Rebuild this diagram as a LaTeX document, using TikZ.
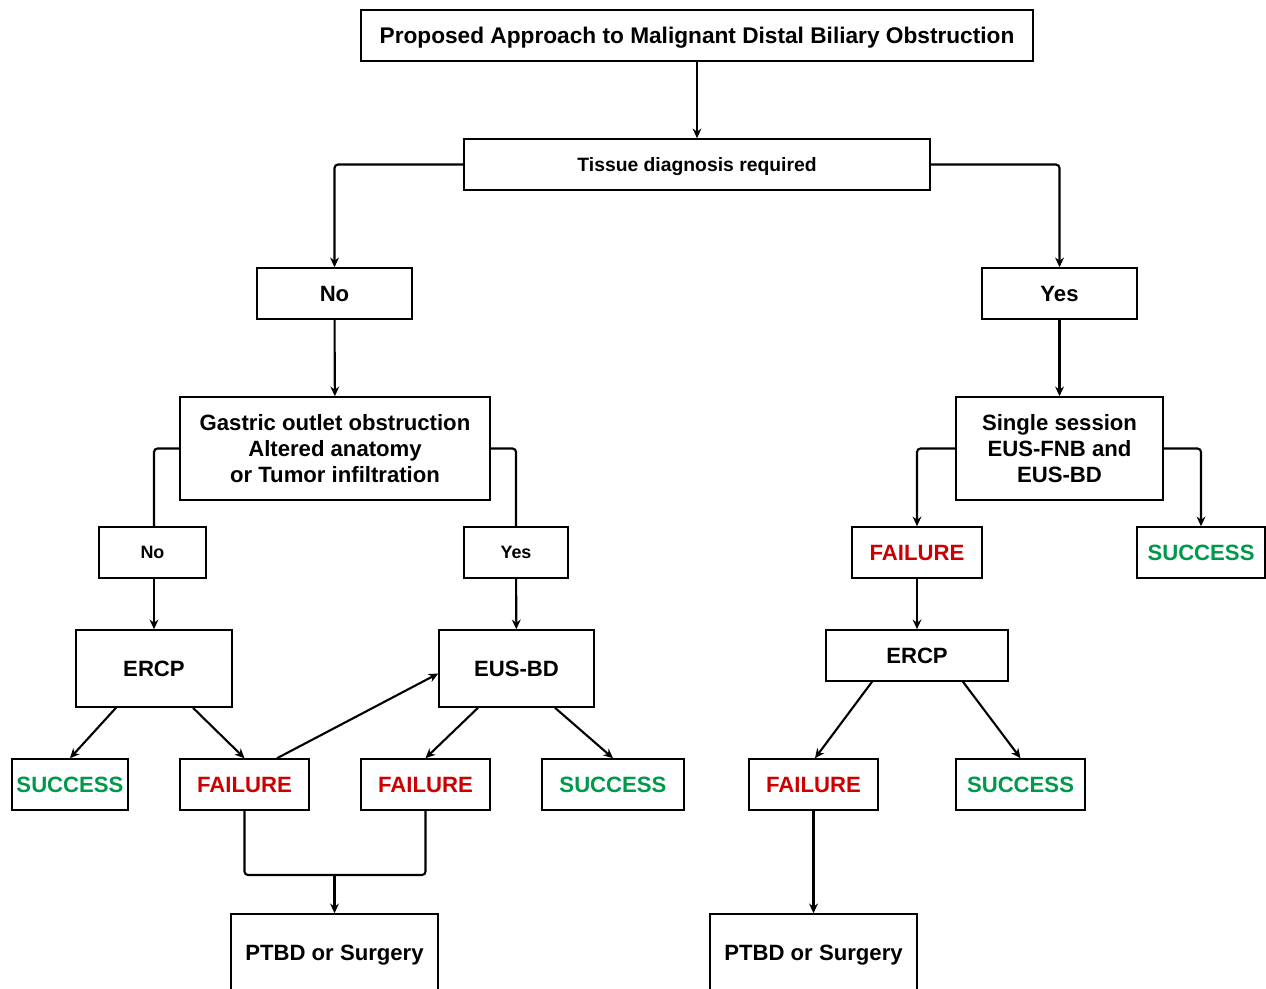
\documentclass[tikz,border=0pt]{standalone}
\usepackage{fontspec}
\setmainfont{Liberation Sans}
\usepackage{tikz}
\usetikzlibrary{arrows.meta}
\usetikzlibrary{positioning}

\definecolor{okgreen}{RGB}{0,153,76}
\definecolor{badred}{RGB}{204,0,0}

\begin{document}
\begin{tikzpicture}[x=0.02cm, y=-0.02cm,
    >={Stealth[length=5.5pt,width=5pt]},
    tallbox/.style={draw, line width=0.9pt, inner sep=0pt, align=center,
                font=\fontsize{12.6}{14.7}\selectfont\bfseries},
    box/.style={tallbox, text depth=0pt},
    smallbox/.style={box, font=\fontsize{10.2}{12}\selectfont\bfseries},
    okbox/.style={box, text=okgreen},
    badbox/.style={box, text=badred},
    line/.style={line width=1.2pt, rounded corners=2pt},
    arr/.style={line, ->}]
  \useasboundingbox (0,0) rectangle (1266,988);

  \node[box, minimum width=13.44cm, minimum height=1.02cm,
        font=\fontsize{12.9}{15}\selectfont\bfseries] (title) at (697,35.5)
       {Proposed Approach to Malignant Distal Biliary Obstruction};
  \node[box, minimum width=9.32cm, minimum height=1.02cm,
        font=\fontsize{11}{13}\selectfont\bfseries] (tissue) at (697,164.5)
       {Tissue diagnosis required};

  \node[box, minimum width=3.1cm, minimum height=1.02cm] (no1)  at (334.5,293.5) {No};
  \node[box, minimum width=3.1cm, minimum height=1.02cm] (yes1) at (1059.5,293.5) {Yes};

  \node[tallbox, minimum width=6.2cm, minimum height=2.06cm] (gastric) at (335,448.5)
       {Gastric outlet obstruction\\Altered anatomy\\or Tumor infiltration};
  \node[tallbox, minimum width=4.14cm, minimum height=2.06cm] (single) at (1059.5,448.5)
       {Single session\\EUS-FNB and\\EUS-BD};

  \node[smallbox, minimum width=2.14cm, minimum height=1.02cm] (no2)  at (152.5,552.5) {No};
  \node[smallbox, minimum width=2.08cm, minimum height=1.02cm] (yes2) at (516,552.5) {Yes};
  \node[badbox, minimum width=2.6cm,  minimum height=1.02cm] (failR) at (917,552.5) {FAILURE};
  \node[okbox,  minimum width=2.56cm, minimum height=1.02cm] (succR) at (1201,552.5) {SUCCESS};

  \node[box, minimum width=3.12cm, minimum height=1.54cm] (ercpL) at (154,668.5) {ERCP};
  \node[box, minimum width=3.1cm,  minimum height=1.54cm] (eusbd) at (516.5,668.5) {EUS-BD};
  \node[box, minimum width=3.64cm, minimum height=1.02cm] (ercpR) at (917,655.5) {ERCP};

  \node[okbox,  minimum width=2.32cm, minimum height=1.02cm] (succ1) at (70,784.5) {SUCCESS};
  \node[badbox, minimum width=2.58cm, minimum height=1.02cm] (fail1) at (244.5,784.5) {FAILURE};
  \node[badbox, minimum width=2.58cm, minimum height=1.02cm] (fail2) at (425.5,784.5) {FAILURE};
  \node[okbox,  minimum width=2.84cm, minimum height=1.02cm] (succ2) at (613,784.5) {SUCCESS};
  \node[badbox, minimum width=2.58cm, minimum height=1.02cm] (fail3) at (813.5,784.5) {FAILURE};
  \node[okbox,  minimum width=2.58cm, minimum height=1.02cm] (succ3) at (1020.5,784.5) {SUCCESS};

  \node[box, minimum width=4.14cm, minimum height=1.56cm] (ptbd1) at (334.5,953) {PTBD or Surgery};
  \node[box, minimum width=4.14cm, minimum height=1.56cm] (ptbd2) at (813.5,953) {PTBD or Surgery};
  \coordinate (join) at (334.5,875);

  \draw[arr] (title) -- (tissue);
  \draw[arr] (tissue.west) -| (no1);
  \draw[arr] (tissue.east) -| (yes1);
  \draw[arr] (no1) -- (gastric);
  \draw[arr] (yes1) -- (single);

  \draw[line] (gastric.west) -| ([xshift=0.03cm]no2.north);
  \draw[line] (gastric.east) -| (yes2);
  \draw[arr] (single.west) -| (failR);
  \draw[arr] (single.east) -| (succR);

  \draw[arr] (no2.south -| ercpL) -- (ercpL);
  \draw[arr] (yes2) -- (eusbd);
  \draw[arr] (failR) -- (ercpR);

  \draw[arr] ([xshift=-0.76cm]ercpL.south) -- (succ1.north);
  \draw[arr] ([xshift=0.78cm]ercpL.south) -- (fail1.north);
  \draw[arr] ([xshift=0.65cm]fail1.north) -- ([yshift=-0.1cm]eusbd.west);
  \draw[arr] ([xshift=-0.77cm]eusbd.south) -- (fail2.north);
  \draw[arr] ([xshift=0.77cm]eusbd.south) -- (succ2.north);
  \draw[arr] ([xshift=-0.9cm]ercpR.south) -- ([xshift=0.03cm]fail3.north);
  \draw[arr] ([xshift=0.92cm]ercpR.south) -- (succ3.north);

  \draw[line] (fail1.south) |- (join) -| (fail2.south);
  \draw[arr] (join) -- (ptbd1);
  \draw[arr] (fail3) -- (ptbd2);
\end{tikzpicture}
\end{document}
